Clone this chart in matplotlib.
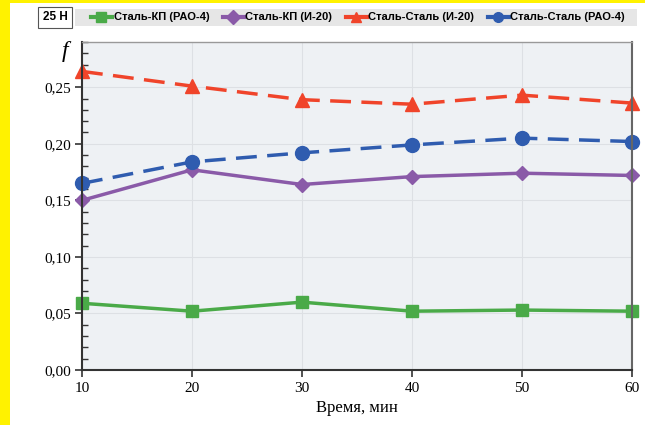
import matplotlib.pyplot as plt
from matplotlib.patches import Rectangle
from matplotlib.ticker import MultipleLocator, FuncFormatter

# data
time_min = [10, 20, 30, 40, 50, 60]
steel_kp_rao4 = [0.059, 0.052, 0.060, 0.052, 0.053, 0.052]
steel_kp_i20 = [0.150, 0.177, 0.164, 0.171, 0.174, 0.172]
steel_steel_i20 = [0.264, 0.251, 0.239, 0.235, 0.243, 0.236]
steel_steel_rao4 = [0.165, 0.184, 0.192, 0.199, 0.205, 0.202]

labels = ["Сталь-КП (РАО-4)", "Сталь-КП (И-20)", "Сталь-Сталь (И-20)", "Сталь-Сталь (РАО-4)"]
load_label = "25 Н"

fig = plt.figure(figsize=(6.45, 4.25), dpi=100)
ax = fig.add_axes([82 / 645, 55 / 425, 550 / 645, 328 / 425])

# yellow frame strips and gray legend band
fig.patches.append(Rectangle((0, 0), 10 / 645, 1, transform=fig.transFigure,
                             facecolor="#fff200", edgecolor="none", zorder=0))
fig.patches.append(Rectangle((0, 1 - 3 / 425), 1, 3 / 425, transform=fig.transFigure,
                             facecolor="#fff200", edgecolor="none", zorder=0))
fig.patches.append(Rectangle((75 / 645, 1 - 26 / 425), 562 / 645, 17 / 425,
                             transform=fig.transFigure, facecolor="#e6e6e6",
                             edgecolor="none", zorder=0))

ax.set_facecolor("#eef1f4")
ax.plot(time_min, steel_kp_rao4, color="#4aaa48", lw=2.5, marker="s", ms=9, label=labels[0])
ax.plot(time_min, steel_kp_i20, color="#8a5aa8", lw=2.5, marker="D", ms=7.5, label=labels[1])
ax.plot(time_min, steel_steel_i20, color="#f0442a", lw=2.5, ls=(0, (6, 3)), marker="^", ms=10, label=labels[2])
ax.plot(time_min, steel_steel_rao4, color="#2f5caf", lw=2.5, ls=(0, (6, 3)), marker="o", ms=10, label=labels[3])

for m in ax.lines:
    m.set_clip_on(False)

ax.set_xlim(10, 60)
ax.set_ylim(0, 0.29)
ax.xaxis.set_major_locator(MultipleLocator(10))
ax.yaxis.set_major_locator(MultipleLocator(0.05))
ax.yaxis.set_minor_locator(MultipleLocator(0.01))
ax.yaxis.set_major_formatter(FuncFormatter(lambda v, p: f"{v:.2f}".replace(".", ",")))
ax.grid(True, which="major", color="#dde0e4", lw=0.8)
ax.set_axisbelow(True)

for lab in ax.get_xticklabels() + ax.get_yticklabels():
    lab.set_family("Liberation Serif")
    lab.set_fontsize(11)
ax.tick_params(axis="both", which="major", direction="out", length=5, width=1.2, color="#333333")
ax.tick_params(axis="y", which="minor", direction="in", length=4, width=1, color="#333333")
ax.tick_params(axis="y", pad=3)

for side in ["left", "bottom"]:
    ax.spines[side].set_color("#333333")
    ax.spines[side].set_linewidth(1.5)
ax.spines["right"].set_color("#666666")
ax.spines["right"].set_linewidth(1.5)
ax.spines["top"].set_color("#999999")
ax.spines["top"].set_linewidth(1)

ax.set_xlabel("Время, мин", family="Liberation Serif", fontsize=12, labelpad=4)
fig.text(68 / 645, 1 - 52 / 425, "f", family="Liberation Serif", style="italic",
         fontsize=17, ha="right", va="center")

fig.text(55 / 645, 1 - 17.5 / 425, load_label, family="Liberation Sans", weight="bold",
         fontsize=8.5, ha="center", va="center",
         bbox=dict(boxstyle="square,pad=0.35", facecolor="white", edgecolor="#555555", lw=0.8))

leg = fig.legend(loc="center", bbox_to_anchor=(358 / 645, 1 - 17.5 / 425), ncol=4,
                 frameon=False, handlelength=1.9, handletextpad=0.15, columnspacing=1.2,
                 borderpad=0,
                 prop={"family": ["Liberation Sans Narrow", "Liberation Sans"],
                       "weight": "bold", "size": 8})
for h in leg.legend_handles:
    h.set_markersize(7)
    h.set_linestyle("-")
    h.set_linewidth(3)

fig.savefig("out.png", dpi=100)
